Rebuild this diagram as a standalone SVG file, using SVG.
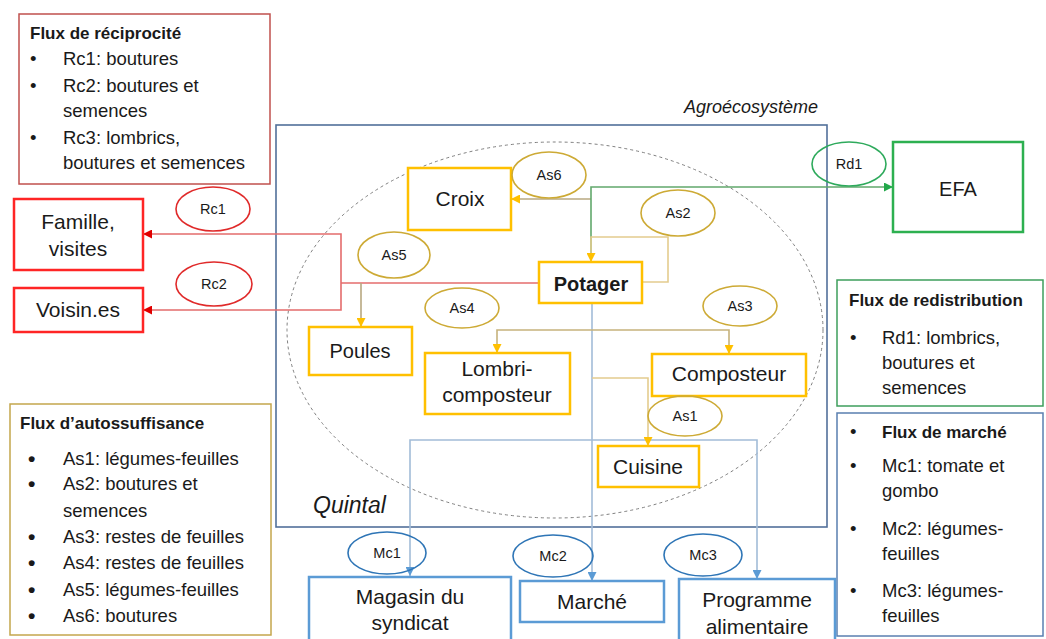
<svg xmlns="http://www.w3.org/2000/svg" width="1046" height="639" viewBox="0 0 1046 639">
<style>
text{font-family:"Liberation Sans",Arial,sans-serif;fill:#1a1a1a}
.leg{font-size:18.5px}
.legt{font-size:17px;font-weight:bold}
.nt{font-size:21px;text-anchor:middle}
.lab{font-size:14.5px;text-anchor:middle}
.ny{fill:#fff;stroke:#FFC000;stroke-width:2.5}
.nr{fill:#fff;stroke:#FF2525;stroke-width:2.5}
.nb{fill:#fff;stroke:#5B9BD5;stroke-width:2.5}
.ng{fill:#fff;stroke:#2DB050;stroke-width:2.5}
.ey{fill:none;stroke:#CDAA35;stroke-width:1.6}
.er{fill:none;stroke:#E02A2A;stroke-width:1.6}
.eb{fill:none;stroke:#2E75B6;stroke-width:1.6}
.eg{fill:none;stroke:#2EAA5C;stroke-width:1.6}
.c{fill:none;stroke-width:1.6}
.cr{stroke:#E46C6C}
.ct{stroke:#B8A880}
.cg{stroke:#E4CC8E}
.ct2{stroke:#C6B27C}
.cb{stroke:#A2BCD8}
.cgr{stroke:#62A86C}
</style>
<defs>
<marker id="ay" viewBox="0 0 10 10" refX="10" refY="5" markerWidth="9" markerHeight="9" markerUnits="userSpaceOnUse" orient="auto"><path d="M0,0 L10,5 L0,10 z" fill="#FFC000"/></marker>
<marker id="ar" viewBox="0 0 10 10" refX="10" refY="5" markerWidth="9" markerHeight="9" markerUnits="userSpaceOnUse" orient="auto"><path d="M0,0 L10,5 L0,10 z" fill="#E00000"/></marker>
<marker id="ab" viewBox="0 0 10 10" refX="10" refY="5" markerWidth="9" markerHeight="9" markerUnits="userSpaceOnUse" orient="auto"><path d="M0,0 L10,5 L0,10 z" fill="#5B9BD5"/></marker>
<marker id="ag" viewBox="0 0 10 10" refX="10" refY="5" markerWidth="9" markerHeight="9" markerUnits="userSpaceOnUse" orient="auto"><path d="M0,0 L10,5 L0,10 z" fill="#22A84A"/></marker>
</defs>
<rect width="1046" height="639" fill="#fff"/>

<!-- Quintal / agroecosystem frame -->
<g id="quintal">
<rect x="276" y="125" width="551" height="402" fill="none" stroke="#52709A" stroke-width="1.6"/>
<text x="818" y="113" text-anchor="end" style="font-size:18px;font-style:italic">Agroécosystème</text>
<text x="313" y="513" style="font-size:23px;font-style:italic">Quintal</text>
<ellipse cx="555" cy="330" rx="268" ry="188" fill="none" stroke="#7F7F7F" stroke-width="1" stroke-dasharray="3 3"/>
</g>

<!-- Legends -->
<g id="legend-reciprocite">
<rect x="19" y="14" width="251" height="170" fill="#fff" stroke="#C0504D" stroke-width="1.5"/>
<text x="30" y="39" class="legt">Flux de réciprocité</text>
<text x="30" y="65" class="leg">•</text><text x="63" y="65" class="leg">Rc1: boutures</text>
<text x="30" y="92" class="leg">•</text><text x="63" y="92" class="leg">Rc2: boutures et</text>
<text x="63" y="117" class="leg">semences</text>
<text x="30" y="144" class="leg">•</text><text x="63" y="144" class="leg">Rc3: lombrics,</text>
<text x="63" y="169" class="leg">boutures et semences</text>
</g>

<g id="legend-autosuffisance">
<rect x="10" y="404" width="261" height="231" fill="#fff" stroke="#C4A64C" stroke-width="1.5"/>
<text x="20" y="429" class="legt">Flux d’autossuffisance</text>
<g class="leg" style="font-weight:bold;font-size:21px">
<text x="28" y="466">•</text><text x="28" y="491">•</text><text x="28" y="544">•</text><text x="28" y="570">•</text><text x="28" y="597">•</text><text x="28" y="623">•</text>
</g>
<text x="63" y="465" class="leg">As1: légumes-feuilles</text>
<text x="63" y="490" class="leg">As2: boutures et</text>
<text x="63" y="517" class="leg">semences</text>
<text x="63" y="543" class="leg">As3: restes de feuilles</text>
<text x="63" y="569" class="leg">As4: restes de feuilles</text>
<text x="63" y="596" class="leg">As5: légumes-feuilles</text>
<text x="63" y="622" class="leg">As6: boutures</text>
</g>

<g id="legend-redistribution">
<rect x="837" y="280" width="206" height="126" fill="#fff" stroke="#3E9E5C" stroke-width="1.5"/>
<text x="849" y="306" class="legt">Flux de redistribution</text>
<text x="850" y="344" class="leg">•</text><text x="882" y="344" class="leg">Rd1: lombrics,</text>
<text x="882" y="369" class="leg">boutures et</text>
<text x="882" y="394" class="leg">semences</text>
</g>

<g id="legend-marche">
<rect x="837" y="413" width="206" height="223" fill="#fff" stroke="#5A7FB0" stroke-width="1.5"/>
<text x="850" y="438" class="leg">•</text><text x="882" y="438" class="legt">Flux de marché</text>
<text x="850" y="472" class="leg">•</text><text x="882" y="472" class="leg">Mc1: tomate et</text>
<text x="882" y="497" class="leg">gombo</text>
<text x="850" y="535" class="leg">•</text><text x="882" y="535" class="leg">Mc2: légumes-</text>
<text x="882" y="560" class="leg">feuilles</text>
<text x="850" y="597" class="leg">•</text><text x="882" y="597" class="leg">Mc3: légumes-</text>
<text x="882" y="622" class="leg">feuilles</text>
</g>

<!-- Connectors -->
<g id="connectors">
<polyline class="c cr" points="539,283 341,283"/>
<polyline class="c cr" points="341,283 341,234 143,234" marker-end="url(#ar)"/>
<polyline class="c cr" points="341,283 341,310 143,310" marker-end="url(#ar)"/>
<polyline class="c ct" points="361,283 361,327" marker-end="url(#ay)"/>
<polyline class="c ct" points="591,199 511,199" marker-end="url(#ay)"/>
<polyline class="c cgr" points="591,262 591,187 893,187" marker-end="url(#ag)"/>
<polyline class="c cg" points="642,282 668,282 668,237 591,237 591,262" marker-end="url(#ay)"/>
<polyline class="c cb" points="592,303 592,581" marker-end="url(#ab)"/>
<polyline class="c cb" points="592,440 410,440 410,576" marker-end="url(#ab)"/>
<polyline class="c cb" points="592,440 757,440 757,579" marker-end="url(#ab)"/>
<polyline class="c ct2" points="592,330 497,330 497,353" marker-end="url(#ay)"/>
<polyline class="c ct2" points="592,330 729,330 729,354" marker-end="url(#ay)"/>
<polyline class="c cg" points="592,378 648,378 648,446" marker-end="url(#ay)"/>
</g>

<!-- Nodes -->
<g id="n-famille"><rect x="14" y="199" width="129" height="71" class="nr"/><text x="78" y="229" class="nt">Famille,</text><text x="78" y="256" class="nt">visites</text></g>
<g id="n-voisin"><rect x="14" y="288" width="129" height="44" class="nr"/><text x="78" y="317" class="nt">Voisin.es</text></g>
<g id="n-croix"><rect x="408" y="168" width="103" height="62" class="ny"/><text x="460" y="206" class="nt">Croix</text></g>
<g id="n-potager"><rect x="539" y="262" width="103" height="41" class="ny"/><text x="591" y="291" class="nt" style="font-weight:bold;font-size:20px">Potager</text></g>
<g id="n-poules"><rect x="309" y="327" width="103" height="48" class="ny"/><text x="360" y="358" class="nt" style="font-size:20px">Poules</text></g>
<g id="n-lombri"><rect x="425" y="353" width="145" height="61" class="ny"/><text x="497" y="376" class="nt">Lombri-</text><text x="497" y="402" class="nt">composteur</text></g>
<g id="n-composteur"><rect x="652" y="354" width="154" height="42" class="ny"/><text x="729" y="381" class="nt">Composteur</text></g>
<g id="n-cuisine"><rect x="598" y="446" width="101" height="41" class="ny"/><text x="648" y="474" class="nt">Cuisine</text></g>
<g id="n-efa"><rect x="893" y="142" width="130" height="90" class="ng"/><text x="958" y="196" class="nt" style="font-size:20px">EFA</text></g>
<g id="n-magasin"><rect x="309" y="577" width="202" height="70" class="nb"/><text x="410" y="604" class="nt">Magasin du</text><text x="410" y="630" class="nt">syndicat</text></g>
<g id="n-marche"><rect x="520" y="581" width="144" height="41" class="nb"/><text x="592" y="609" class="nt">Marché</text></g>
<g id="n-programme"><rect x="679" y="579" width="156" height="70" class="nb"/><text x="757" y="607" class="nt">Programme</text><text x="757" y="634" class="nt">alimentaire</text></g>

<!-- Flow labels -->
<g id="labels">
<g id="l-rc1"><ellipse cx="213" cy="209" rx="37" ry="22" class="er"/><text x="213" y="214" class="lab">Rc1</text></g>
<g id="l-rc2"><ellipse cx="214" cy="284" rx="38" ry="22" class="er"/><text x="214" y="289" class="lab">Rc2</text></g>
<g id="l-as6"><ellipse cx="549" cy="175" rx="37" ry="23" class="ey"/><text x="549" y="180" class="lab">As6</text></g>
<g id="l-as2"><ellipse cx="678" cy="213" rx="37" ry="23" class="ey"/><text x="678" y="218" class="lab">As2</text></g>
<g id="l-as5"><ellipse cx="394" cy="255" rx="36" ry="23" class="ey"/><text x="394" y="260" class="lab">As5</text></g>
<g id="l-as4"><ellipse cx="462" cy="308" rx="37" ry="20" class="ey"/><text x="462" y="313" class="lab">As4</text></g>
<g id="l-as3"><ellipse cx="740" cy="306" rx="37" ry="20" class="ey"/><text x="740" y="311" class="lab">As3</text></g>
<g id="l-as1"><ellipse cx="685" cy="416" rx="37" ry="20" class="ey"/><text x="685" y="421" class="lab">As1</text></g>
<g id="l-rd1"><ellipse cx="849" cy="164" rx="37" ry="22" class="eg"/><text x="849" y="169" class="lab">Rd1</text></g>
<g id="l-mc1"><ellipse cx="387" cy="553" rx="39" ry="21" class="eb"/><text x="387" y="558" class="lab">Mc1</text></g>
<g id="l-mc2"><ellipse cx="553" cy="556" rx="40" ry="21" class="eb"/><text x="553" y="561" class="lab">Mc2</text></g>
<g id="l-mc3"><ellipse cx="703" cy="555" rx="39" ry="21" class="eb"/><text x="703" y="560" class="lab">Mc3</text></g>
</g>
</svg>
